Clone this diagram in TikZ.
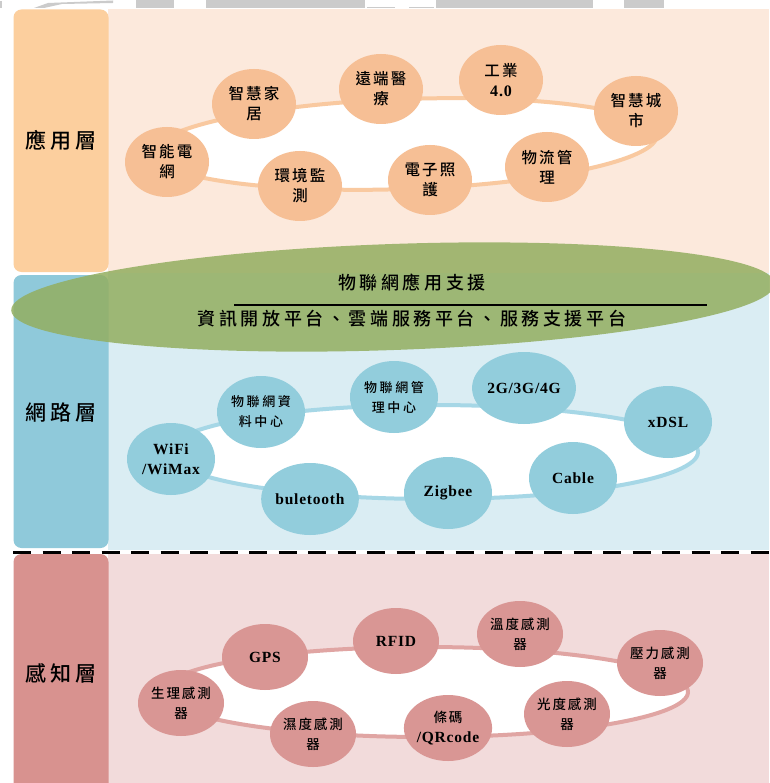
\documentclass[tikz,border=0pt]{standalone}
\usepackage{fontspec}
\setmainfont{Liberation Serif}
\newfontfamily\cjk{Noto Sans CJK TC}[UprightFont=* Medium]
\newfontfamily\lat{Liberation Serif}[LetterSpace=5]
\usetikzlibrary{shapes.geometric}
\definecolor{orbar}{HTML}{FCCF9E}
\definecolor{orbg}{HTML}{FCE9DC}
\definecolor{orcirc}{HTML}{F6BF95}
\definecolor{orring}{HTML}{F9C9A0}
\definecolor{blbar}{HTML}{8FC9DA}
\definecolor{blbg}{HTML}{DAEDF3}
\definecolor{blcirc}{HTML}{92CDDC}
\definecolor{blring}{HTML}{A6D7E6}
\definecolor{rdbar}{HTML}{D8928F}
\definecolor{rdbg}{HTML}{F2DBDB}
\definecolor{rdcirc}{HTML}{D99694}
\definecolor{rdring}{HTML}{E0A5A3}
\definecolor{grn}{HTML}{93AE60}
\definecolor{strip}{HTML}{CBCBCB}
\tikzset{
  bgbox/.style={inner sep=0pt, outer sep=0pt, anchor=north west, draw=none},
  barbox/.style={inner sep=0pt, outer sep=0pt, rounded corners=8pt, minimum width=95pt,
     font=\cjk\addfontfeature{LetterSpace=20}\fontsize{21}{24}\selectfont},
  ringe/.style={ellipse, draw, line width=4pt, fill=white, inner sep=0pt},
  bubble/.style={ellipse, inner sep=0pt, align=center, text=black},
  topb/.style={bubble, fill=orcirc, minimum width=84pt, minimum height=70pt,
     font=\cjk\addfontfeature{LetterSpace=14}\fontsize{15.5}{20}\selectfont},
  midb/.style={bubble, fill=blcirc, minimum width=88pt, minimum height=72pt,
     font=\cjk\addfontfeature{LetterSpace=20}\fontsize{13}{20}\selectfont},
  botb/.style={bubble, fill=rdcirc, minimum width=86pt, minimum height=66pt,
     font=\cjk\addfontfeature{LetterSpace=14}\fontsize{13.5}{20}\selectfont},
  latt/.style={font=\lat\bfseries\fontsize{15.5}{20}\selectfont},
  suptext/.style={font=\cjk\addfontfeature{LetterSpace=20}\fontsize{18}{20}\selectfont, inner sep=0pt}
}
\begin{document}
\begin{tikzpicture}[x=1pt,y=-1pt]
\useasboundingbox (0,0) rectangle (769,783);
\fill[white] (0,0) rectangle (769,783);
% grey strip along the top edge
\fill[strip] (0,1) rectangle (2,8);
\fill[strip] (34,8) -- (48,3) -- (113,0.5) -- (113,3) -- (62,4) -- (44,8) -- cycle;
\fill[strip] (136,0) rectangle (174,8);
\fill[strip] (206,0) rectangle (365,8);
\fill[strip] (367,6.8) rectangle (395,8.2);
\fill[strip] (409,6.8) rectangle (434,8.2);
\fill[strip] (436,0) rectangle (593,8);
\fill[strip] (624,0) rectangle (664,8);
% section backgrounds
\node[bgbox, fill=orbg, minimum width=661pt, minimum height=263.5pt] (bgA) at (108,9.5) {};
\node[bgbox, fill=blbg, minimum width=661pt, minimum height=277pt] (bgB) at (108,273) {};
\node[bgbox, fill=rdbg, minimum width=661pt, minimum height=230pt] (bgC) at (108,554) {};
% side bars
\node[barbox, fill=orbar, minimum height=262.5pt] (barA) at (61,140.75) {應用層};
\node[barbox, fill=blbar, minimum height=273pt] (barB) at (61,411.5) {};
\node[barbox, fill=rdbar, minimum height=238pt] (barC) at (61,673) {};
% dashed separator
\coordinate (dl) at (13,552.5);
\coordinate (dr) at (769,552.5);
\draw[line width=2.6pt, dash pattern=on 18pt off 11.5pt] (dl) -- (dr);
% support ellipse
\node[ellipse, fill=grn, fill opacity=0.85, minimum width=764pt, minimum height=106pt,
      inner sep=0pt, rotate=2] (sup) at (393,297) {};
\node[barbox, minimum height=10pt, fill=none] (labB) at (61,413) {網路層};
\node[barbox, minimum height=10pt, fill=none] (labC) at (61,673) {感知層};
\node[suptext] (t1) at (412,283) {物聯網應用支援};
\node[suptext] (t2) at (412,319) {資訊開放平台、雲端服務平台、服務支援平台};
\coordinate (ul) at (234,305);
\coordinate (ur) at (707,305);
\draw[line width=1.3pt] (ul) -- (ur);
% application layer
\node[ringe, draw=orring, minimum width=504pt, minimum height=90pt, rotate=2] (ringA) at (405,144) {};
\node[topb] (a1) at (167,162) {智能電\\網};
\node[topb] (a2) at (254,104) {智慧家\\居};
\node[topb] (a3) at (381,89) {遠端醫\\療};
\node[topb] (a4) at (501,80) {工業\\{\lat\bfseries\fontsize{16}{20}\selectfont 4.0}};
\node[topb] (a5) at (636,111) {智慧城\\市};
\node[topb] (a6) at (300,186) {環境監\\測};
\node[topb] (a7) at (430,180) {電子照\\護};
\node[topb] (a8) at (547,167) {物流管\\理};
% network layer
\node[ringe, draw=blring, minimum width=530pt, minimum height=94pt] (ringB) at (433,452) {};
\node[midb, latt] (b1) at (171,459) {WiFi\\/WiMax};
\node[midb] (b2) at (261,412) {物聯網資\\料中心};
\node[midb] (b3) at (394,397) {物聯網管\\理中心};
\node[midb, latt] (b4) at (524,388) {2G/3G/4G};
\node[midb, latt] (b5) at (668,422) {xDSL};
\node[midb, latt] (b6) at (310,499) {buletooth};
\node[midb, latt] (b7) at (448,493) {Zigbee};
\node[midb, latt] (b8) at (573,478) {Cable};
% perception layer
\node[ringe, draw=rdring, minimum width=526pt, minimum height=90pt] (ringC) at (425,692) {};
\node[botb] (c1) at (181,703) {生理感測\\器};
\node[botb, latt] (c2) at (265,657) {GPS};
\node[botb, latt] (c3) at (396,641) {RFID};
\node[botb] (c4) at (520,634) {溫度感測\\器};
\node[botb] (c5) at (660,663) {壓力感測\\器};
\node[botb] (c6) at (313,734) {濕度感測\\器};
\node[botb] (c7) at (448,728) {條碼\\{\lat\bfseries\fontsize{15.5}{20}\selectfont /QRcode}};
\node[botb] (c8) at (567,714) {光度感測\\器};
\end{tikzpicture}
\end{document}
